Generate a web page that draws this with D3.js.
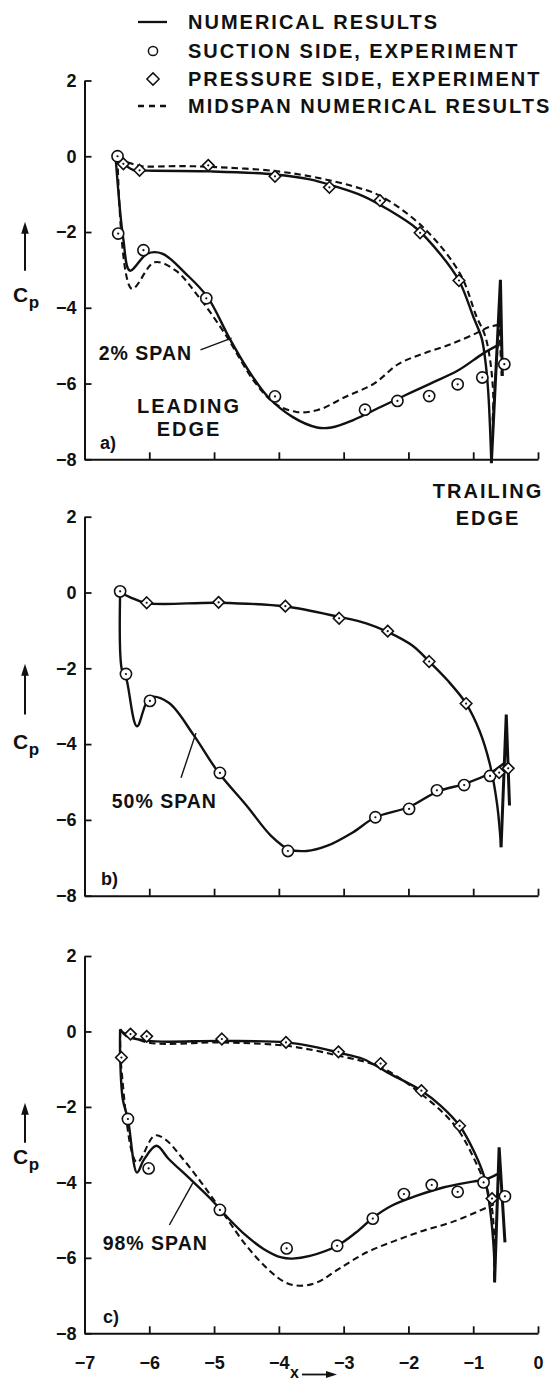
<!DOCTYPE html>
<html>
<head>
<meta charset="utf-8">
<script src="https://cdn.jsdelivr.net/npm/d3@7"></script>
<style>
  html, body { margin: 0; padding: 0; background: #fff; }
  svg { display: block; }
  text { font-family: "Liberation Sans", Arial, Helvetica, sans-serif; font-weight: 700; fill: #111; }
</style>
</head>
<body>
<script>
// ---------------- DATA ----------------
const xTicks = [-7, -6, -5, -4, -3, -2, -1, 0];
const yTicks = [2, 0, -2, -4, -6, -8];

const legendLabels = ["NUMERICAL RESULTS", "SUCTION SIDE, EXPERIMENT", "PRESSURE SIDE, EXPERIMENT", "MIDSPAN NUMERICAL RESULTS"];
const spanLabels = ["2% SPAN", "50% SPAN", "98% SPAN"];
const panelLetters = ["a)", "b)", "c)"];

// ---- panel a (2% span) ----
const aPressureExp = [[-6.40,-0.20],[-6.15,-0.37],[-5.09,-0.24],[-4.06,-0.53],[-3.22,-0.82],[-2.44,-1.17],[-1.82,-2.02],[-1.22,-3.28]];
const aSuctionExp = [[-6.49,0.00],[-6.48,-2.04],[-6.09,-2.48],[-5.12,-3.75],[-4.06,-6.34],[-2.67,-6.69],[-2.17,-6.46],[-1.68,-6.33],[-1.24,-6.02],[-0.86,-5.84],[-0.52,-5.49]];
const aSolidPressure = [[-6.52,-0.02],[-6.40,-0.20],[-6.22,-0.38],[-6.03,-0.38],[-5.05,-0.40],[-4.06,-0.48],[-3.52,-0.61],[-3.14,-0.79],[-2.70,-1.05],[-2.32,-1.40],[-1.88,-1.90],[-1.50,-2.60],[-1.22,-3.28],[-1.00,-4.23],[-0.87,-4.80],[-0.82,-5.30],[-0.77,-6.17],[-0.72,-8.10]];
const aSolidSuction = [[-6.52,-0.02],[-6.40,-2.20],[-6.30,-3.02],[-6.03,-2.57],[-5.80,-2.57],[-5.43,-3.11],[-5.10,-3.72],[-4.77,-4.78],[-4.50,-5.57],[-4.17,-6.35],[-3.79,-6.88],[-3.41,-7.16],[-3.19,-7.16],[-2.86,-6.97],[-2.43,-6.62],[-2.05,-6.31],[-1.66,-6.00],[-1.23,-5.65],[-0.85,-5.21],[-0.61,-4.98]];
const aSolidTE = [[-0.72,-8.10],[-0.58,-3.26],[-0.55,-5.80]];
const aDashPressure = [[-6.49,-0.05],[-6.30,-0.18],[-6.13,-0.26],[-5.50,-0.26],[-5.05,-0.28],[-4.06,-0.39],[-3.40,-0.57],[-2.86,-0.79],[-2.43,-1.05],[-1.77,-1.88],[-1.20,-3.11],[-0.95,-4.23],[-0.82,-4.72],[-0.74,-5.37],[-0.69,-6.34],[-0.70,-7.00]];
const aDashSuction = [[-6.49,-0.05],[-6.27,-3.50],[-5.92,-2.80],[-5.59,-3.02],[-5.27,-3.64],[-4.83,-4.69],[-4.39,-5.92],[-4.06,-6.53],[-3.73,-6.75],[-3.40,-6.70],[-2.97,-6.35],[-2.53,-6.00],[-2.15,-5.48],[-1.77,-5.21],[-1.33,-4.95],[-0.95,-4.67],[-0.74,-4.50],[-0.59,-4.45]];
const aDashTE = [[-0.70,-7.00],[-0.60,-4.40],[-0.56,-5.80]];

// ---- panel b (50% span) ----
const bPressureExp = [[-6.04,-0.27],[-4.93,-0.26],[-3.90,-0.36],[-3.07,-0.68],[-2.32,-1.02],[-1.68,-1.82],[-1.11,-2.93],[-0.60,-4.75],[-0.46,-4.64]];
const bSuctionExp = [[-6.45,0.03],[-6.36,-2.15],[-5.99,-2.86],[-4.91,-4.76],[-3.86,-6.82],[-2.51,-5.93],[-1.99,-5.71],[-1.56,-5.22],[-1.14,-5.08],[-0.74,-4.84]];
const bSolidPressure = [[-6.45,0.00],[-6.30,-0.12],[-6.04,-0.28],[-4.93,-0.27],[-3.90,-0.37],[-3.08,-0.64],[-2.64,-0.82],[-2.32,-1.04],[-1.94,-1.40],[-1.68,-1.82],[-1.39,-2.33],[-1.11,-2.93],[-0.90,-3.66],[-0.74,-4.55],[-0.63,-5.60],[-0.57,-6.72]];
const bSolidSuction = [[-6.45,0.00],[-6.42,-2.06],[-6.36,-2.24],[-6.19,-3.53],[-5.99,-2.77],[-5.70,-2.91],[-5.32,-3.75],[-4.94,-4.73],[-4.50,-5.62],[-4.12,-6.42],[-3.85,-6.77],[-3.57,-6.82],[-3.25,-6.68],[-2.86,-6.33],[-2.51,-5.93],[-1.99,-5.66],[-1.56,-5.26],[-1.12,-5.04],[-0.74,-4.77],[-0.52,-4.50]];
const bSolidTE = [[-0.57,-6.72],[-0.49,-3.22],[-0.44,-5.62]];

// ---- panel c (98% span) ----
const cPressureExp = [[-6.43,-0.69],[-6.29,-0.07],[-6.04,-0.13],[-4.88,-0.20],[-3.89,-0.29],[-3.08,-0.54],[-2.43,-0.85],[-1.80,-1.57],[-1.21,-2.50],[-0.71,-4.43]];
const cSuctionExp = [[-6.33,-2.32],[-6.01,-3.63],[-4.91,-4.73],[-3.88,-5.75],[-3.10,-5.68],[-2.55,-4.96],[-2.07,-4.31],[-1.64,-4.07],[-1.24,-4.25],[-0.84,-4.00],[-0.51,-4.37]];
const cSolidPressure = [[-6.45,0.06],[-6.36,-0.11],[-6.03,-0.25],[-4.88,-0.25],[-3.89,-0.29],[-3.41,-0.42],[-3.08,-0.56],[-2.70,-0.73],[-2.32,-1.09],[-1.80,-1.57],[-1.50,-1.97],[-1.21,-2.50],[-0.98,-3.21],[-0.82,-3.91],[-0.74,-4.71],[-0.68,-5.86],[-0.67,-6.65]];
const cSolidSuction = [[-6.45,0.06],[-6.45,-0.64],[-6.41,-1.79],[-6.33,-2.32],[-6.19,-3.74],[-6.08,-3.39],[-5.89,-3.03],[-5.70,-3.38],[-5.37,-3.91],[-5.05,-4.44],[-4.77,-4.97],[-4.50,-5.42],[-4.23,-5.77],[-3.96,-5.99],[-3.79,-6.02],[-3.52,-5.95],[-3.10,-5.68],[-2.81,-5.33],[-2.54,-4.93],[-2.26,-4.62],[-1.88,-4.36],[-1.45,-4.13],[-1.01,-3.98],[-0.79,-3.91],[-0.63,-3.78]];
const cSolidTE = [[-0.67,-6.65],[-0.60,-3.07],[-0.51,-5.59]];
const cDashPressure = [[-6.45,0.02],[-6.03,-0.29],[-4.88,-0.29],[-3.89,-0.38],[-3.08,-0.64],[-2.43,-0.95],[-1.83,-1.62],[-1.28,-2.50],[-0.96,-3.47],[-0.74,-4.44],[-0.68,-5.30],[-0.68,-6.60]];
const cDashSuction = [[-6.45,0.02],[-6.43,-1.00],[-6.19,-3.47],[-5.92,-2.76],[-5.76,-2.85],[-5.48,-3.38],[-5.16,-4.09],[-4.83,-4.89],[-4.50,-5.68],[-4.17,-6.30],[-3.90,-6.65],[-3.68,-6.74],[-3.41,-6.65],[-3.08,-6.30],[-2.65,-5.86],[-2.21,-5.55],[-1.77,-5.28],[-1.34,-5.06],[-0.90,-4.75],[-0.68,-4.58]];

// ---------------- LAYOUT ----------------
const W = 553, H = 1382;
const x = d3.scaleLinear().domain([-7, 0]).range([84.5, 538]);
const fmt = d => d < 0 ? "\u2212" + Math.abs(d) : String(d);

const panels = [
  { top: 80.5, bottom: 459.3, letter: panelLetters[0], letterPos: [100, 449],
    solid: [aSolidPressure, aSolidSuction], solidTE: aSolidTE,
    dash: [aDashPressure, aDashSuction], dashTE: aDashTE,
    pressure: aPressureExp, suction: aSuctionExp,
    span: spanLabels[0], spanText: [-6.78, -5.38], leader: [[-5.21, -5.11], [-4.73, -4.80]],
    cp: { tip: -1.73, base: -3.02, c: -3.64 }, xLabels: false },
  { top: 516.7, bottom: 895.7, letter: panelLetters[1], letterPos: [101, 885],
    solid: [bSolidPressure, bSolidSuction], solidTE: bSolidTE,
    dash: [], dashTE: null,
    pressure: bPressureExp, suction: bSuctionExp,
    span: spanLabels[1], spanText: [-6.58, -5.69], leader: [[-5.51, -4.89], [-5.28, -3.71]],
    cp: { tip: -1.88, base: -3.22, c: -3.94 }, xLabels: false },
  { top: 956, bottom: 1333.3, letter: panelLetters[2], letterPos: [103, 1323],
    solid: [cSolidPressure, cSolidSuction], solidTE: cSolidTE,
    dash: [cDashPressure, cDashSuction], dashTE: null,
    pressure: cPressureExp, suction: cSuctionExp,
    span: spanLabels[2], spanText: [-6.72, -5.79], leader: [[-5.69, -5.13], [-5.33, -4.02]],
    cp: { tip: -1.89, base: -2.95, c: -3.31 }, xLabels: true }
];

const svg = d3.select("body").append("svg").attr("width", W).attr("height", H)
  .attr("viewBox", `0 0 ${W} ${H}`);
svg.append("rect").attr("width", W).attr("height", H).attr("fill", "#fff");

const INK = "#111";

// ---------------- LEGEND ----------------
const legRows = [22, 51, 79, 106];
const lg = svg.append("g");
legendLabels.forEach((t, i) => {
  lg.append("text").attr("x", 188).attr("y", legRows[i] + 7.2)
    .attr("font-size", 20).attr("letter-spacing", 2).text(t);
});
lg.append("line").attr("x1", 138).attr("x2", 167).attr("y1", legRows[0]).attr("y2", legRows[0])
  .attr("stroke", INK).attr("stroke-width", 2.3);
lg.append("circle").attr("cx", 153).attr("cy", legRows[1]).attr("r", 4.6)
  .attr("fill", "#fff").attr("stroke", INK).attr("stroke-width", 1.5);
lg.append("path").attr("d", d3.symbol(d3.symbolDiamond2, 95)())
  .attr("transform", `translate(153,${legRows[2]})`)
  .attr("fill", "#fff").attr("stroke", INK).attr("stroke-width", 1.5);
lg.append("line").attr("x1", 138).attr("x2", 168).attr("y1", legRows[3]).attr("y2", legRows[3])
  .attr("stroke", INK).attr("stroke-width", 2.3).attr("stroke-dasharray", "6,5");

// ---------------- PANELS ----------------
const smooth = d3.curveCatmullRom.alpha(0.5);

panels.forEach(p => {
  const y = d3.scaleLinear().domain([-8, 2]).range([p.bottom, p.top]);
  const g = svg.append("g");
  const line = d3.line().x(d => x(d[0])).y(d => y(d[1])).curve(smooth);
  const lineLin = d3.line().x(d => x(d[0])).y(d => y(d[1]));

  // axes
  const ya = g.append("g").attr("transform", `translate(${x(-7)},0)`)
    .call(d3.axisLeft(y).tickValues(yTicks).tickSize(-7).tickSizeOuter(0).tickPadding(8).tickFormat(fmt));
  const xa = g.append("g").attr("transform", `translate(0,${y(-8)})`)
    .call(d3.axisBottom(x).tickValues(xTicks).tickSize(-7).tickSizeOuter(0).tickPadding(23)
      .tickFormat(p.xLabels ? fmt : () => ""));
  [ya, xa].forEach(a => {
    a.attr("font-size", null).attr("font-family", null);
    a.select(".domain").attr("stroke", INK).attr("stroke-width", 2);
    a.selectAll(".tick line").attr("stroke", INK).attr("stroke-width", 1.8);
    a.selectAll(".tick text").attr("fill", INK).attr("font-size", 18);
  });

  // dashed midspan lines
  p.dash.forEach(arr => {
    g.append("path").attr("d", line(arr)).attr("fill", "none").attr("stroke", INK)
      .attr("stroke-width", 2.1).attr("stroke-dasharray", "6.5,4");
  });
  if (p.dashTE) {
    g.append("path").attr("d", lineLin(p.dashTE)).attr("fill", "none").attr("stroke", INK)
      .attr("stroke-width", 2.1).attr("stroke-dasharray", "6.5,4");
  }

  // solid numerical lines
  p.solid.forEach(arr => {
    g.append("path").attr("d", line(arr)).attr("fill", "none").attr("stroke", INK)
      .attr("stroke-width", 2.4).attr("stroke-linejoin", "round");
  });
  g.append("path").attr("d", lineLin(p.solidTE)).attr("fill", "none").attr("stroke", INK)
    .attr("stroke-width", 3).attr("stroke-linejoin", "miter");

  // markers: suction (circles)
  const sc = g.append("g").selectAll("g").data(p.suction).join("g")
    .attr("transform", d => `translate(${x(d[0])},${y(d[1])})`);
  sc.append("circle").attr("r", 5.6).attr("fill", "#fff").attr("stroke", INK).attr("stroke-width", 1.6);
  sc.append("circle").attr("r", 1.1).attr("fill", INK);

  // markers: pressure (diamonds)
  const pd = g.append("g").selectAll("g").data(p.pressure).join("g")
    .attr("transform", d => `translate(${x(d[0])},${y(d[1])})`);
  pd.append("path").attr("d", d3.symbol(d3.symbolDiamond2, 85)())
    .attr("fill", "#fff").attr("stroke", INK).attr("stroke-width", 1.6);
  pd.append("circle").attr("r", 1.1).attr("fill", INK);

  // panel letter
  g.append("text").attr("x", p.letterPos[0]).attr("y", p.letterPos[1]).attr("font-size", 18).text(p.letter);

  // span label + leader
  g.append("text").attr("x", x(p.spanText[0])).attr("y", y(p.spanText[1]))
    .attr("font-size", 19.5).attr("letter-spacing", 1).text(p.span);
  g.append("line").attr("x1", x(p.leader[0][0])).attr("y1", y(p.leader[0][1]))
    .attr("x2", x(p.leader[1][0])).attr("y2", y(p.leader[1][1]))
    .attr("stroke", INK).attr("stroke-width", 1.4);

  // Cp label with arrow
  const ax = 25;
  const yt = y(p.cp.tip), yb = y(p.cp.base);
  g.append("line").attr("x1", ax).attr("x2", ax).attr("y1", yt + 9).attr("y2", yb)
    .attr("stroke", INK).attr("stroke-width", 2);
  g.append("path").attr("d", `M${ax},${yt} L${ax - 3.8},${yt + 12} L${ax + 3.8},${yt + 12} Z`).attr("fill", INK);
  const cy = y(p.cp.c);
  const cp = g.append("text").attr("x", 13).attr("y", cy + 7.5).attr("font-size", 21);
  cp.append("tspan").text("C");
  cp.append("tspan").attr("font-size", 17).attr("dy", 6).attr("dx", 0.5).text("p");
});

// ---------------- ANNOTATIONS ----------------
svg.append("text").attr("x", 189).attr("y", 413).attr("text-anchor", "middle")
  .attr("font-size", 20).attr("letter-spacing", 2).text("LEADING");
svg.append("text").attr("x", 189).attr("y", 436).attr("text-anchor", "middle")
  .attr("font-size", 20).attr("letter-spacing", 2).text("EDGE");
svg.append("text").attr("x", 488).attr("y", 498).attr("text-anchor", "middle")
  .attr("font-size", 20).attr("letter-spacing", 2).text("TRAILING");
svg.append("text").attr("x", 488).attr("y", 525).attr("text-anchor", "middle")
  .attr("font-size", 20).attr("letter-spacing", 2).text("EDGE");

// x axis title with arrow
svg.append("text").attr("x", 290).attr("y", 1378.3).attr("font-size", 16).text("x");
svg.append("line").attr("x1", 302).attr("x2", 328).attr("y1", 1374.5).attr("y2", 1374.5)
  .attr("stroke", INK).attr("stroke-width", 1.8);
svg.append("path").attr("d", "M337,1374.5 L326,1371 L326,1378 Z").attr("fill", INK);
</script>
</body>
</html>
